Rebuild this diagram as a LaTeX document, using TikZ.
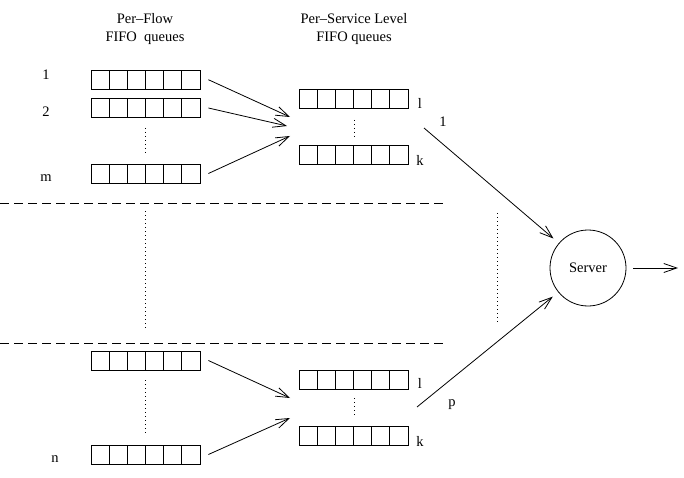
\documentclass[tikz,border=0pt]{standalone}
\usepackage{fontspec}
\setmainfont{Liberation Serif}
\usetikzlibrary{arrows.meta,calc}
\begin{document}
\begin{tikzpicture}[x=1pt,y=-1pt,line width=0.8pt,
  font=\fontsize{14.5}{17}\selectfont,
  queue/.style={draw,rectangle,inner sep=0pt,minimum width=109pt,minimum height=19pt,
    path picture={\foreach \i in {1,...,5}{\draw[line width=0.8pt] ($(path picture bounding box.south west)!\i/6!(path picture bounding box.south east)$) -- ($(path picture bounding box.north west)!\i/6!(path picture bounding box.north east)$);}}},
  arr/.style={-{Straight Barb[length=13pt,width=9pt,line width=0.8pt]}},
  vdots/.style={line width=1pt,dash pattern=on 1pt off 3pt},
  sep/.style={line width=0.8pt,dash pattern=on 9pt off 5pt},
  lbl/.style={inner sep=0pt}]
\useasboundingbox (0,0) rectangle (684,478);
% headers
\node[lbl] (h1a) at (145,19) {Per--Flow};
\node[lbl] (h1b) at (145,38) {FIFO\ \ queues};
\node[lbl] (h2a) at (354,19) {Per--Service Level};
\node[lbl] (h2b) at (354,38) {FIFO queues};
% top left queues
\node[queue] (q1) at (145.5,79.7) {};
\node[queue] (q2) at (145.5,108) {};
\node[queue] (qm) at (145.5,173.5) {};
\node[lbl] (l1) at (46,75) {1};
\node[lbl] (l2) at (46,112) {2};
\node[lbl] (lm) at (46,178) {m};
\coordinate (d1a) at (145,128); \coordinate (d1b) at (145,153);
\draw[vdots] (d1a) -- (d1b);
% top middle queues
\node[queue] (s1) at (353.5,98.8) {};
\node[queue] (sk) at (353.5,154.6) {};
\node[lbl] (ls1) at (420,103) {l};
\node[lbl] (lsk) at (420,160) {k};
\coordinate (d2a) at (354,120); \coordinate (d2b) at (354,138);
\draw[vdots] (d2a) -- (d2b);
\coordinate (t1) at (290,117);
\coordinate (t2) at (287,126);
\coordinate (t3) at (290,136);
\draw[arr] ([shift={(8,0)}]q1.east) -- (t1);
\draw[arr] ([shift={(8,0)}]q2.east) -- (t2);
\draw[arr] ([shift={(8,0)}]qm.east) -- (t3);
% separators
\coordinate (sa1) at (0,203); \coordinate (sa2) at (443,203);
\coordinate (sb1) at (0,343); \coordinate (sb2) at (443,343);
\draw[sep] (sa1) -- (sa2);
\draw[sep] (sb1) -- (sb2);
\coordinate (d3a) at (145,211); \coordinate (d3b) at (145,331);
\draw[vdots] (d3a) -- (d3b);
\coordinate (d4a) at (497,213); \coordinate (d4b) at (497,323);
\draw[vdots] (d4a) -- (d4b);
% bottom left queues
\node[queue] (qa) at (145.5,360.5) {};
\node[queue] (qn) at (145.5,454.5) {};
\node[lbl] (ln) at (55,459) {n};
\coordinate (d5a) at (145,380); \coordinate (d5b) at (145,434);
\draw[vdots] (d5a) -- (d5b);
% bottom middle queues
\node[queue] (b1) at (353.5,379.5) {};
\node[queue] (bk) at (353.5,436) {};
\node[lbl] (lb1) at (420,383) {l};
\node[lbl] (lbk) at (420,441) {k};
\coordinate (d6a) at (354,398); \coordinate (d6b) at (354,417);
\draw[vdots] (d6a) -- (d6b);
\coordinate (t4) at (290,398);
\coordinate (t5) at (290,418);
\draw[arr] ([shift={(8,0)}]qa.east) -- (t4);
\draw[arr] ([shift={(8,0)}]qn.east) -- (t5);
% server
\node[draw,circle,minimum size=76pt,inner sep=0pt] (srv) at (588,268) {Server};
\coordinate (u1) at (424,128);
\coordinate (u2) at (417,407);
\draw[arr,shorten >=7pt] (u1) -- (srv);
\draw[arr,shorten >=7pt] (u2) -- (srv);
\node[lbl] (lab1) at (443,122) {1};
\node[lbl] (labp) at (452,405) {p};
\coordinate (out) at (678,268);
\draw[arr] ([shift={(7,0)}]srv.east) -- (out);
\end{tikzpicture}
\end{document}
